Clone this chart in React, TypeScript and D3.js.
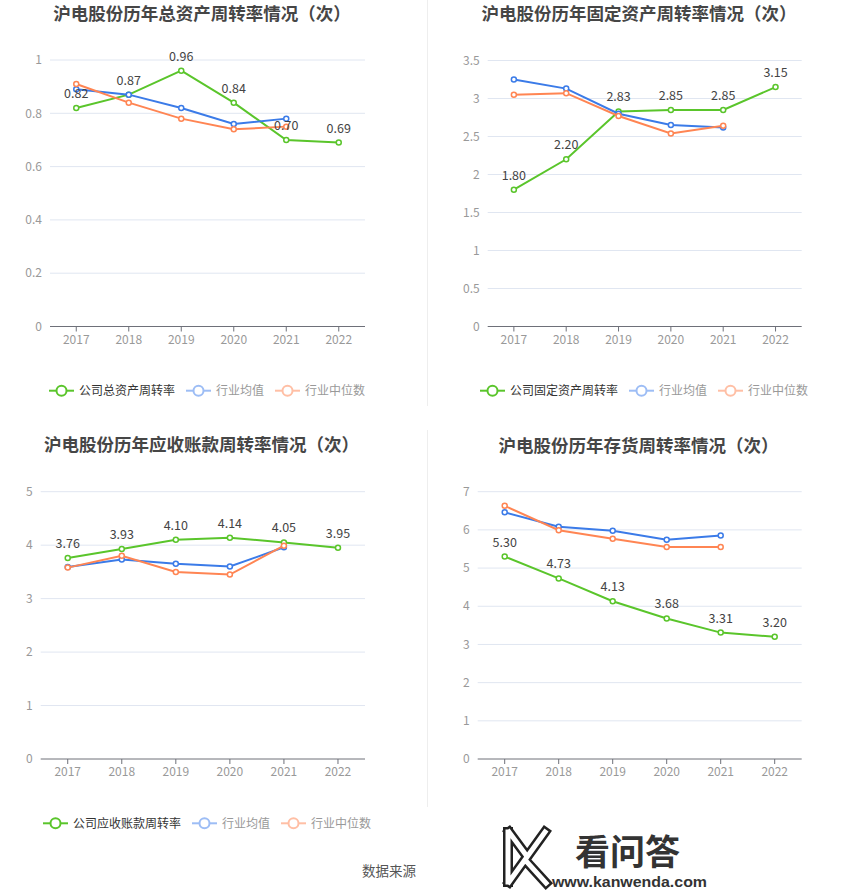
import React from 'react';
import { scaleBand, scaleLinear, line } from 'd3';

const years = ['2017', '2018', '2019', '2020', '2021', '2022'];

// 总资产周转率
const assetCompany = [0.82, 0.87, 0.96, 0.84, 0.7, 0.69];
const assetAvg = [0.89, 0.87, 0.82, 0.76, 0.78];
const assetMedian = [0.91, 0.84, 0.78, 0.74, 0.75];
const assetTicks = [0, 0.2, 0.4, 0.6, 0.8, 1];

// 固定资产周转率
const fixedCompany = [1.8, 2.2, 2.83, 2.85, 2.85, 3.15];
const fixedAvg = [3.25, 3.13, 2.8, 2.65, 2.62];
const fixedMedian = [3.05, 3.07, 2.77, 2.54, 2.64];
const fixedTicks = [0, 0.5, 1, 1.5, 2, 2.5, 3, 3.5];

// 应收账款周转率
const recvCompany = [3.76, 3.93, 4.1, 4.14, 4.05, 3.95];
const recvAvg = [3.59, 3.73, 3.65, 3.6, 3.96];
const recvMedian = [3.58, 3.8, 3.5, 3.45, 3.99];
const recvTicks = [0, 1, 2, 3, 4, 5];

// 存货周转率
const invCompany = [5.3, 4.73, 4.13, 3.68, 3.31, 3.2];
const invAvg = [6.46, 6.08, 5.98, 5.74, 5.85];
const invMedian = [6.63, 5.99, 5.77, 5.55, 5.55];
const invTicks = [0, 1, 2, 3, 4, 5, 6, 7];

const GREEN = '#5ac52b';
const BLUE = '#3b7be8';
const ORANGE = '#ff8553';
const FONT = "'Noto Sans CJK SC', 'Microsoft YaHei', sans-serif";

type ChartProps = {
  title: string;
  titleX: number;
  titleY: number;
  left: number;
  right: number;
  top: number;
  bottom: number;
  ticks: number[];
  company: number[];
  avg: number[];
  median: number[];
  legendName?: string;
  legendY?: number;
  legendXs?: number[];
};

const Chart = (p: ChartProps) => {
  const x = scaleBand<string>().domain(years).range([p.left, p.right]);
  const y = scaleLinear()
    .domain([0, p.ticks[p.ticks.length - 1]])
    .range([p.bottom, p.top]);
  const cx = (i: number) => (x(years[i]) as number) + x.bandwidth() / 2;
  const path = line<number>()
    .x((d, i) => cx(i))
    .y((d) => y(d));

  const series = [
    { data: p.company, color: GREEN },
    { data: p.avg, color: BLUE },
    { data: p.median, color: ORANGE },
  ];

  const legend = p.legendName
    ? [
        { name: p.legendName, icon: GREEN, text: '#333' },
        { name: '行业均值', icon: '#9dbdf5', text: '#999' },
        { name: '行业中位数', icon: '#ffbfa5', text: '#999' },
      ]
    : [];

  return (
    <g fontFamily={FONT}>
      <text
        x={p.titleX}
        y={p.titleY}
        textAnchor="middle"
        fontSize={17.5}
        fontWeight="bold"
        fill="#464646"
      >
        {p.title}
      </text>
      {p.ticks.map((t) => (
        <g key={t}>
          {t !== 0 && (
            <line x1={p.left} x2={p.right} y1={y(t)} y2={y(t)} stroke="#e0e6f1" />
          )}
          <text
            x={p.left - 8}
            y={y(t)}
            dy="0.35em"
            textAnchor="end"
            fontSize={12}
            fill="#999"
          >
            {String(t)}
          </text>
        </g>
      ))}
      <line x1={p.left} x2={p.right} y1={p.bottom} y2={p.bottom} stroke="#6e7079" />
      {years.map((yr, i) => (
        <g key={yr}>
          <line x1={cx(i)} x2={cx(i)} y1={p.bottom} y2={p.bottom + 5} stroke="#6e7079" />
          <text x={cx(i)} y={p.bottom + 17} textAnchor="middle" fontSize={12} fill="#999">
            {yr}
          </text>
        </g>
      ))}
      {series.map((s, k) => (
        <g key={k}>
          <path d={path(s.data) || ''} fill="none" stroke={s.color} strokeWidth={2} />
          {s.data.map((d, i) => (
            <circle
              key={i}
              cx={cx(i)}
              cy={y(d)}
              r={2.5}
              fill="#fff"
              stroke={s.color}
              strokeWidth={1.5}
            />
          ))}
        </g>
      ))}
      {p.company.map((d, i) => (
        <text
          key={i}
          x={cx(i)}
          y={y(d) - 10}
          textAnchor="middle"
          fontSize={12.5}
          fill="#444"
        >
          {d.toFixed(2)}
        </text>
      ))}
      {legend.map((l, i) => {
        const lx = (p.legendXs as number[])[i];
        const ly = p.legendY as number;
        return (
          <g key={l.name}>
            <line x1={lx} x2={lx + 25} y1={ly} y2={ly} stroke={l.icon} strokeWidth={2} />
            <circle cx={lx + 12.5} cy={ly} r={5} fill="#fff" stroke={l.icon} strokeWidth={2} />
            <text x={lx + 30} y={ly} dy="0.36em" fontSize={12} fill={l.text}>
              {l.name}
            </text>
          </g>
        );
      })}
    </g>
  );
};

export default function App() {
  return (
    <svg
      width={850}
      height={891}
      style={{ position: 'absolute', left: 0, top: 0, background: '#fff' }}
    >
      <rect width={850} height={891} fill="#fff" />
      <line x1={427.5} x2={427.5} y1={0} y2={406} stroke="#eee" />
      <line x1={427.5} x2={427.5} y1={430} y2={807} stroke="#eee" />
      <Chart
        title="沪电股份历年总资产周转率情况（次）"
        titleX={202}
        titleY={19.5}
        left={50}
        right={365}
        top={60}
        bottom={326.5}
        ticks={assetTicks}
        company={assetCompany}
        avg={assetAvg}
        median={assetMedian}
        legendName="公司总资产周转率"
        legendY={390.7}
        legendXs={[49, 186, 275]}
      />
      <Chart
        title="沪电股份历年固定资产周转率情况（次）"
        titleX={639}
        titleY={19.5}
        left={487.7}
        right={801.7}
        top={60.5}
        bottom={326.5}
        ticks={fixedTicks}
        company={fixedCompany}
        avg={fixedAvg}
        median={fixedMedian}
        legendName="公司固定资产周转率"
        legendY={390.7}
        legendXs={[480, 629, 718]}
      />
      <Chart
        title="沪电股份历年应收账款周转率情况（次）"
        titleX={201.5}
        titleY={451}
        left={40.7}
        right={365}
        top={491.7}
        bottom={759}
        ticks={recvTicks}
        company={recvCompany}
        avg={recvAvg}
        median={recvMedian}
        legendName="公司应收账款周转率"
        legendY={823.3}
        legendXs={[43, 192, 281]}
      />
      <Chart
        title="沪电股份历年存货周转率情况（次）"
        titleX={638.5}
        titleY={452}
        left={477.7}
        right={801.7}
        top={491.7}
        bottom={759}
        ticks={invTicks}
        company={invCompany}
        avg={invAvg}
        median={invMedian}
      />
      <text x={389} y={875.5} textAnchor="middle" fontSize={13.5} fill="#555" fontFamily={FONT}>
        数据来源
      </text>
      {/* watermark */}
      <g>
        <g fill="none" strokeLinecap="square">
          <path d="M508,832 L508,882 M545,832 L509,882 M509,832 L526,855 M526,861 L546,883" stroke="#222" strokeWidth={10} />
          <path d="M508,832 L508,882 M545,832 L509,882 M509,832 L526,855 M526,861 L546,883" stroke="#fff" strokeWidth={5} />
        </g>
        <text x={575} y={865} fontSize={35} fontWeight="bold" fill="#333" fontFamily={FONT}>
          看问答
        </text>
        <text
          x={552}
          y={887}
          fontSize={14}
          fontWeight="bold"
          fill="#333"
          fontFamily="'Liberation Sans', Arial, sans-serif"
          textLength={155}
          lengthAdjust="spacingAndGlyphs"
        >
          www.kanwenda.com
        </text>
      </g>
    </svg>
  );
}
